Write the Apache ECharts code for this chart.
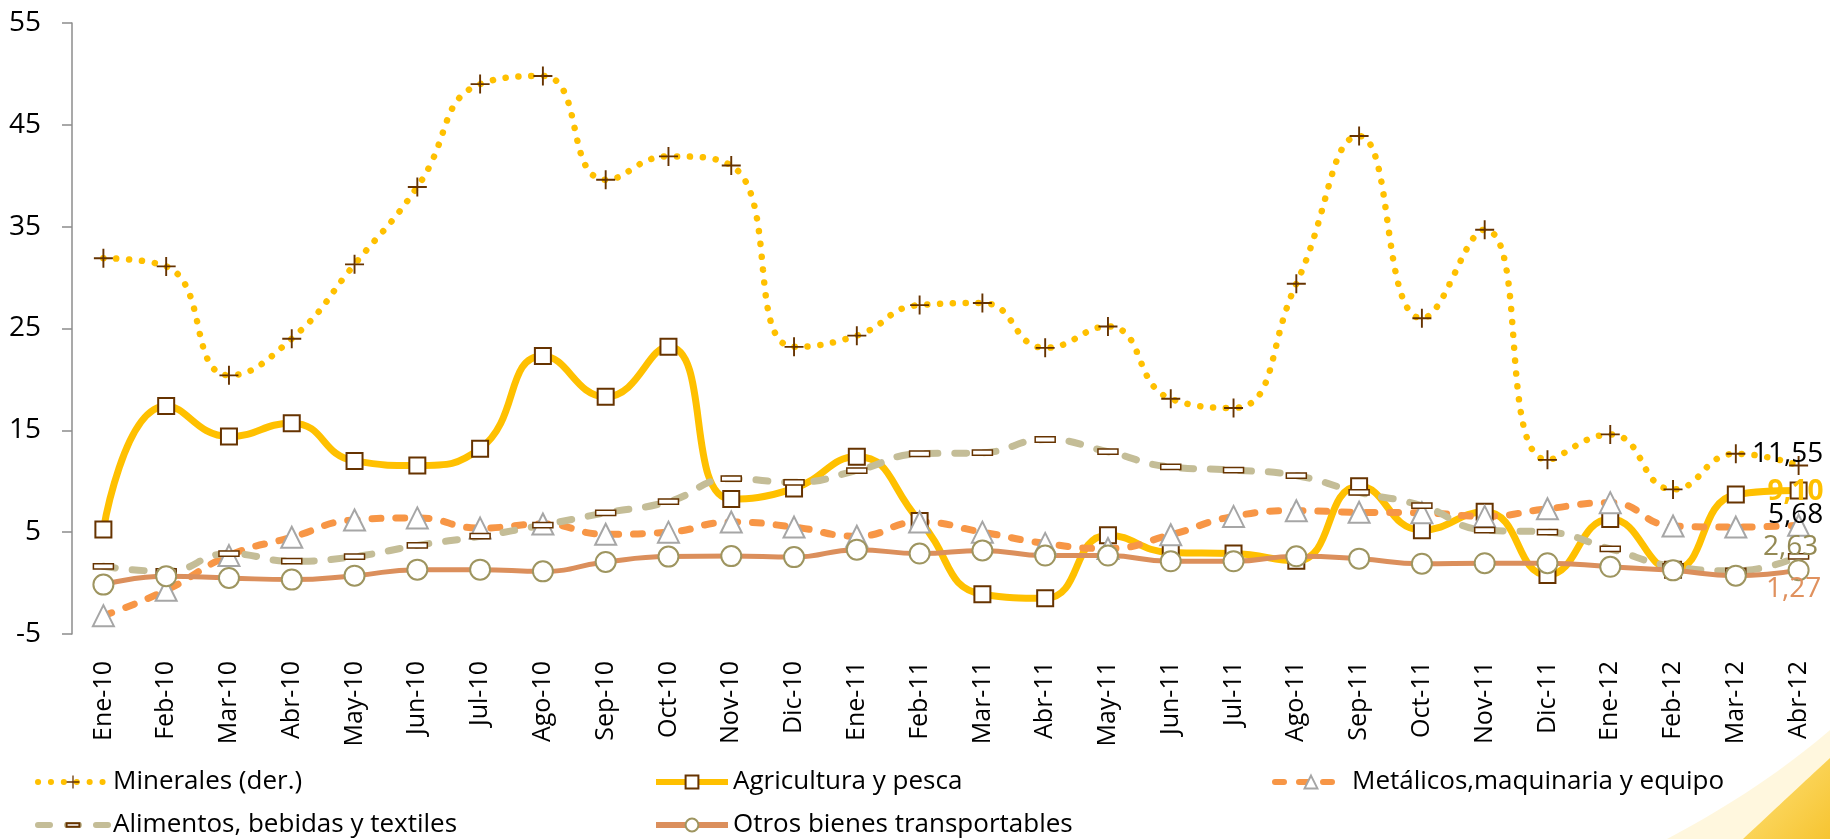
<!DOCTYPE html>
<html>
<head>
<meta charset="utf-8">
<script src="https://cdn.jsdelivr.net/npm/echarts@6/dist/echarts.min.js"></script>
<style>
  html, body { margin: 0; padding: 0; background: #fff; }
  #chart { width: 1830px; height: 839px; }
</style>
</head>
<body>
<div id="chart"></div>
<script>
const months = ['Ene-10','Feb-10','Mar-10','Abr-10','May-10','Jun-10','Jul-10','Ago-10','Sep-10','Oct-10','Nov-10','Dic-10',
  'Ene-11','Feb-11','Mar-11','Abr-11','May-11','Jun-11','Jul-11','Ago-11','Sep-11','Oct-11','Nov-11','Dic-11',
  'Ene-12','Feb-12','Mar-12','Abr-12']

const minerales   = [31.9, 31.1, 20.4, 24.0, 31.3, 38.9, 49.0, 49.8, 39.6, 41.9, 41.0, 23.2, 24.3, 27.3, 27.5, 23.1, 25.2, 18.1, 17.2, 29.4, 43.9, 26.0, 34.7, 12.1, 14.6, 9.2, 12.7, 11.55]
const agricultura = [5.25, 17.4, 14.4, 15.7, 12.0, 11.55, 13.2, 22.3, 18.3, 23.2, 8.25, 9.3, 12.4, 6.1, -1.1, -1.5, 4.7, 3.0, 2.9, 2.2, 9.5, 5.2, 7.0, 0.8, 6.3, 1.3, 8.7, 9.10]
const metalicos   = [-3.2, -0.7, 2.7, 4.5, 6.2, 6.4, 5.4, 5.8, 4.8, 5.0, 6.0, 5.5, 4.6, 6.0, 5.0, 3.9, 3.4, 4.75, 6.55, 7.1, 6.95, 6.9, 6.55, 7.3, 7.9, 5.6, 5.5, 5.68]
const alimentos   = [1.65, 1.15, 2.9, 2.15, 2.6, 3.7, 4.6, 5.7, 6.9, 8.0, 10.25, 9.9, 11.05, 12.7, 12.8, 14.1, 12.9, 11.4, 11.1, 10.55, 8.9, 7.6, 5.2, 5.0, 3.35, 1.65, 1.2, 2.63]
const otros       = [-0.15, 0.67, 0.5, 0.34, 0.73, 1.32, 1.32, 1.15, 2.07, 2.6, 2.65, 2.55, 3.28, 2.9, 3.2, 2.7, 2.7, 2.14, 2.14, 2.63, 2.4, 1.9, 1.95, 1.95, 1.6, 1.25, 0.73, 1.27]

const FONT = '"Open Sans", "Noto Sans", sans-serif'
const BROWN = '#663300'

const PLUS = 'path://M9,0h2v20h-2zM0,9h20v2h-20z'
const DASH = 'path://M0,0M19,19M0,7h19v5h-19z'

// only the last point carries a value label
function withEndLabel(values, label) {
  return values.map((v, i) => i < values.length - 1 ? v : {
    value: v,
    label: {
      show: true, position: 'inside', fontFamily: FONT, fontSize: 28,
      formatter: p => p.value.toFixed(2).replace('.', ','),
      ...label,
    },
  })
}

// corner swoosh (decoration only): quadratic curve sampled into a polygon
function swoosh(x0, y0, cx, cy, x1, y1) {
  const pts = []
  for (let i = 0; i <= 20; i++) {
    const t = i / 20
    pts.push([(1 - t) * (1 - t) * x0 + 2 * t * (1 - t) * cx + t * t * x1,
              (1 - t) * (1 - t) * y0 + 2 * t * (1 - t) * cy + t * t * y1])
  }
  pts.push([1830, 839])
  return pts
}

const series = [
  {
    name: 'Minerales (der.)',
    data: withEndLabel(minerales, { color: '#000', offset: [-11, -11] }),
    lineStyle: { color: '#FFC000', width: 6.5, type: [0.1, 12.8], cap: 'round' },
    symbol: PLUS, symbolSize: 19,
    itemStyle: { color: BROWN, borderWidth: 0 },
  },
  {
    name: 'Agricultura y pesca',
    data: withEndLabel(agricultura, { color: '#FFC000', fontWeight: 'bold', offset: [-3, 2] }),
    lineStyle: { color: '#FFC000', width: 7 },
    symbol: 'rect', symbolSize: 16,
    itemStyle: { color: '#fff', borderColor: BROWN, borderWidth: 2 },
  },
  {
    name: 'Metálicos,maquinaria y equipo',
    data: withEndLabel(metalicos, { color: '#000', offset: [-3, -10] }),
    lineStyle: { color: '#F79646', width: 7, type: [9, 15], cap: 'round' },
    symbol: 'triangle', symbolSize: 21,
    itemStyle: { color: '#fff', borderColor: '#A6A6A6', borderWidth: 2 },
  },
  {
    name: 'Alimentos, bebidas y textiles',
    data: withEndLabel(alimentos, { color: '#948A54', offset: [-8, -9] }),
    lineStyle: { color: '#C4BD97', width: 7, type: [12, 17], cap: 'round' },
    symbol: DASH, symbolSize: 20,
    itemStyle: { color: '#fff', borderColor: BROWN, borderWidth: 1.5 },
  },
  {
    name: 'Otros bienes transportables',
    data: withEndLabel(otros, { color: '#E0915E', offset: [-5, 19] }),
    lineStyle: { color: '#DB8F5C', width: 5 },
    symbol: 'circle', symbolSize: 20,
    itemStyle: { color: '#fff', borderColor: '#9E9560', borderWidth: 2 },
  },
].map(s => ({ ...s, type: 'line', smooth: 0.5, showAllSymbol: true, emphasis: { disabled: true } }))

// one legend per entry so the three columns line up like the original
const legendSpots = [
  { name: 'Minerales (der.)', left: 35, top: 769, width: 70 },
  { name: 'Agricultura y pesca', left: 653, top: 769, width: 72 },
  { name: 'Metálicos,maquinaria y equipo', left: 1272, top: 769, width: 72 },
  { name: 'Alimentos, bebidas y textiles', left: 35, top: 812, width: 70 },
  { name: 'Otros bienes transportables', left: 653, top: 812, width: 72 },
]

const chart = echarts.init(document.getElementById('chart'))
chart.setOption({
  animation: false,
  backgroundColor: '#fff',
  graphic: [
    {
      type: 'polygon', z: -10, silent: true,
      shape: { points: swoosh(1667, 839, 1760, 790, 1830, 730) },
      style: { fill: '#FFF4D0', opacity: 0.7 },
    },
    {
      type: 'polygon', z: -9, silent: true,
      shape: { points: swoosh(1743, 839, 1790, 795, 1830, 758) },
      style: {
        fill: { type: 'linear', x: 0, y: 0, x2: 1, y2: 1, colorStops: [
          { offset: 0, color: '#FFE27A' }, { offset: 1, color: '#F6C431' },
        ] },
      },
    },
  ],
  legend: legendSpots.map(l => ({
    data: [l.name], left: l.left, top: l.top, padding: 0,
    itemWidth: l.width, itemHeight: 16,
    lineStyle: { width: 6 },
    textStyle: { color: '#000', fontSize: 26, fontFamily: FONT },
  })),
  grid: { left: 72, right: 0, top: 23, bottom: 205 },
  xAxis: {
    type: 'category',
    data: months,
    boundaryGap: true,
    axisLine: { show: false },
    axisTick: { show: false },
    axisLabel: { rotate: 90, interval: 0, margin: 27, color: '#000', fontSize: 25, fontFamily: FONT },
  },
  yAxis: {
    type: 'value',
    min: -5, max: 55, interval: 10,
    splitLine: { show: false },
    axisLine: { show: true, lineStyle: { color: '#8C8C8C', width: 1.5 } },
    axisTick: { show: true, length: 10, lineStyle: { color: '#8C8C8C', width: 1.5 } },
    axisLabel: { margin: 31, color: '#000', fontSize: 28, fontFamily: FONT },
  },
  series,
})
</script>
</body>
</html>
